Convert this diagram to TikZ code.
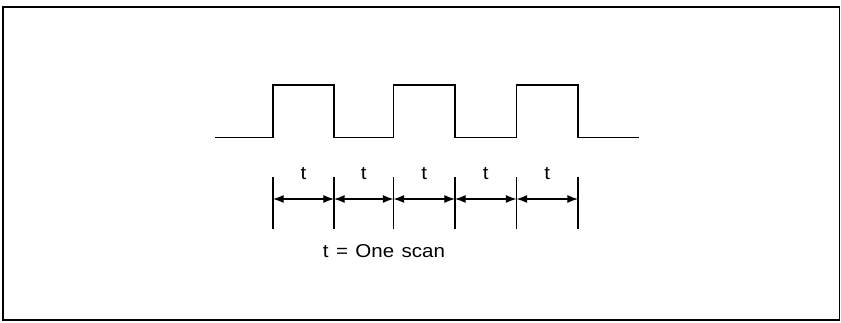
\documentclass[tikz,border=0pt]{standalone}
\usepackage{fontspec}
\setmainfont[FakeStretch=1.1, WordSpace=1.3]{Liberation Sans}
\usepackage{tikz}
\usetikzlibrary{arrows.meta, calc}
\tikzset{
    frame/.style={line width=1.1pt},
    wave/.style={line width=1.4pt, line join=miter},
    scanmark/.style={line width=1.3pt},
    scanarrow/.style={line width=0.9pt, {Latex[length=8pt,width=6pt]}-{Latex[length=8pt,width=6pt]}},
    scanlabel/.style={inner sep=0pt, font=\fontsize{14}{16}\selectfont}
}

\begin{document}
\begin{tikzpicture}[x=0.75pt, y=-0.75pt]
            \useasboundingbox (0,0) rectangle (841,323);
            \draw[frame] (3,7) rectangle (839.5,320);

            % Scan waveform
            \draw[wave] (215,137.5) -- (273,137.5) -- (273,85) -- (334,85)
                -- (334,137.5) -- (393.5,137.5) -- (393.5,85) -- (455,85)
                -- (455,137.5) -- (516.5,137.5) -- (516.5,85) -- (578,85)
                -- (578,137.5) -- (639,137.5);

            % Scan boundaries
            \foreach \x [count=\i] in {273,334,393.5,455,516.5,578} {
                \coordinate (a\i) at (\x,177);
                \coordinate (b\i) at (\x,229);
                \coordinate (c\i) at (\x,199);
                \draw[scanmark] (a\i) -- (b\i);
            }

            % One arrow per scan
            \foreach \i [evaluate=\i as \j using int(\i+1)] in {1,...,5} {
                \draw[scanarrow] (c\i) -- (c\j);
                \node[scanlabel] (t\i) at ($(a\i)!0.5!(a\j)+(0,-3)$) {t};
            }

            \node[scanlabel, anchor=base] (key) at (384,257.5) {t = One scan};
        \end{tikzpicture}
\end{document}
